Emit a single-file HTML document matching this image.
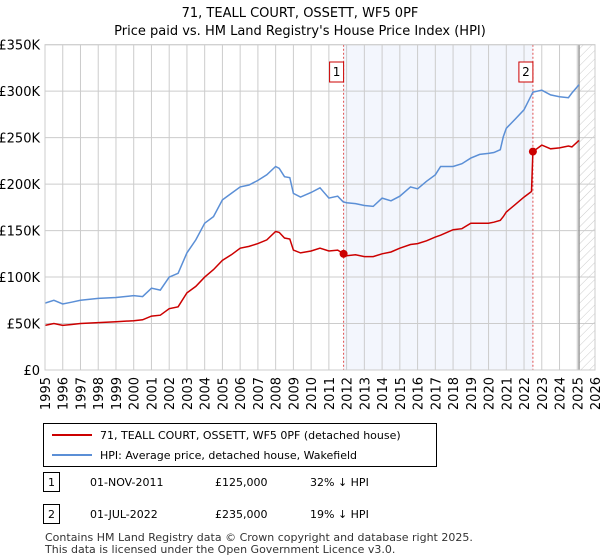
<!DOCTYPE html>
<html><head><meta charset="utf-8"><style>
body{margin:0;background:#fff;font-family:"Liberation Sans","DejaVu Sans",sans-serif;}
#wrap{position:relative;width:600px;height:560px;overflow:hidden;}
svg text{font-family:"DejaVu Sans","Liberation Sans",sans-serif;}
</style></head><body>
<div id="wrap">
<svg id="chart" width="600" height="560"></svg>
</div>
<script>
const hpiYears=[1995,1995.5,1996,1996.5,1997,1998,1999,2000,2000.5,2001,2001.5,2002,2002.5,2003,2003.5,2004,2004.5,2005,2005.5,2006,2006.5,2007,2007.5,2008,2008.2,2008.5,2008.8,2009,2009.4,2010,2010.5,2011,2011.5,2011.8,2012,2012.5,2013,2013.5,2014,2014.5,2015,2015.6,2016,2016.5,2017,2017.3,2018,2018.5,2019,2019.5,2020,2020.3,2020.66,2020.83,2021,2021.5,2022,2022.5,2023,2023.5,2024,2024.5,2024.7,2025.1];
const hpiValues=[72,75,71,73,75,77,78,80,79,88,86,100,104,126,140,158,165,183,190,197,199,204,210,219,217,208,207,190,186,191,196,185,187,181,180,179,177,176,185,182,187,197,195,203,210,219,219,222,228,232,233,234,237,251,260,270,280,299,301,296,294,293,298,307];
const saleYears=[1995,1995.5,1996,1996.5,1997,1998,1999,2000,2000.5,2001,2001.5,2002,2002.5,2003,2003.5,2004,2004.5,2005,2005.5,2006,2006.5,2007,2007.5,2008,2008.2,2008.5,2008.8,2009,2009.4,2010,2010.5,2011,2011.5,2011.83,2012,2012.5,2013,2013.5,2014,2014.5,2015,2015.6,2016,2016.5,2017,2017.3,2018,2018.5,2019,2019.5,2020,2020.3,2020.66,2020.83,2021,2021.5,2022,2022.42,2022.5,2023,2023.5,2024,2024.5,2024.7,2025.1];
const saleValues=[48,50,48,49,50,51,52,53,54,58,59,66,68,83,90,100,108,118,124,131,133,136,140,149,148,142,141,129,126,128,131,128,129,125,123,124,122,122,125,127,131,135,136,139,143,145,151,152,158,158,158,159,161,165,170,178,186,192,235,242,238,239,241,240,247];
const sales=[{n:'1',year:2011.83,value:125},{n:'2',year:2022.5,value:235}];
const yTicks=[0,50,100,150,200,250,300,350];
const yTickLabels=['£0','£50K','£100K','£150K','£200K','£250K','£300K','£350K'];
const xTicks=[1995,1996,1997,1998,1999,2000,2001,2002,2003,2004,2005,2006,2007,2008,2009,2010,2011,2012,2013,2014,2015,2016,2017,2018,2019,2020,2021,2022,2023,2024,2025,2026];

const NS='http://www.w3.org/2000/svg';
const svg=document.getElementById('chart');
const L=45,R=595,T=44.7,B=370;
const xs=y=>L+(y-1995)/(2026-1995)*(R-L);
const ys=v=>B-v/350*(B-T);
function el(tag,attrs,parent){const e=document.createElementNS(NS,tag);for(const k in attrs)e.setAttribute(k,attrs[k]);(parent||svg).appendChild(e);return e;}

const defs=el('defs',{});
const pat=el('pattern',{id:'hatch',width:6,height:6,patternUnits:'userSpaceOnUse',patternTransform:'rotate(45)'},defs);
el('line',{x1:0,y1:0,x2:0,y2:6,stroke:'#ccc','stroke-width':1},pat);

let t=el('text',{x:300,y:17,'text-anchor':'middle','font-size':13,fill:'#000'});t.textContent='71, TEALL COURT, OSSETT, WF5 0PF';


t=el('text',{x:300,y:35,'text-anchor':'middle','font-size':13,fill:'#000'});t.textContent="Price paid vs. HM Land Registry's House Price Index (HPI)";



let r=el('rect',{x:xs(sales[0].year),y:T,width:xs(sales[1].year)-xs(sales[0].year),height:B-T,fill:'#eef2fc',opacity:0.7});


const hatchStart=2025.1;
r=el('rect',{x:xs(hatchStart),y:T,width:R-xs(hatchStart),height:B-T,fill:'url(#hatch)'});



xTicks.forEach(y=>{const l=el('line',{x1:xs(y),x2:xs(y),y1:T,y2:B,stroke:'#ccc','stroke-width':1});


const tx=el('text',{x:0,y:0,'text-anchor':'end','font-size':13,fill:'#000',transform:'translate('+(xs(y)+5)+',377) rotate(-90)'});tx.textContent=y;

});
yTicks.forEach((v,i)=>{const l=el('line',{x1:L,x2:R,y1:ys(v),y2:ys(v),stroke:'#ccc','stroke-width':1});


const tx=el('text',{x:40,y:ys(v)+5,'text-anchor':'end','font-size':13,fill:'#000'});tx.textContent=yTickLabels[i];

});
let vl=el('line',{x1:xs(hatchStart),x2:xs(hatchStart),y1:T,y2:B,stroke:'#999','stroke-width':1.5});



sales.forEach(s=>{const l=el('line',{x1:xs(s.year),x2:xs(s.year),y1:T,y2:B,stroke:'#e05050','stroke-width':1,'stroke-dasharray':'2,2'});


const bx=el('rect',{x:xs(s.year)-14,y:62,width:14,height:20,fill:'#fff',stroke:'#c00','stroke-width':1});


const tx=el('text',{x:xs(s.year)-7,y:76,'text-anchor':'middle','font-size':12,fill:'#000'});tx.textContent=s.n;});

function path(xsA,vs){return xsA.map((y,i)=>(i?'L':'M')+xs(y).toFixed(1)+','+ys(vs[i]).toFixed(1)).join(' ');}
let p=el('path',{d:path(hpiYears,hpiValues),fill:'none',stroke:'#5b8fd6','stroke-width':1.5});


p=el('path',{d:path(saleYears,saleValues),fill:'none',stroke:'#cc0000','stroke-width':1.5});


sales.forEach(s=>{const c=el('circle',{cx:xs(s.year),cy:ys(s.value),r:4,fill:'#cc0000'});

});
el('rect',{x:L,y:T,width:R-L,height:B-T,fill:'none',stroke:'#ccc'});

const lg=el('g',{});


el('rect',{x:43.5,y:423.5,width:393,height:43,fill:'#fff',stroke:'#000'},lg);
el('line',{x1:52,x2:92,y1:435,y2:435,stroke:'#cc0000','stroke-width':2},lg);
el('line',{x1:52,x2:92,y1:455,y2:455,stroke:'#5b8fd6','stroke-width':2},lg);
t=el('text',{x:100,y:439,'font-size':11,fill:'#000'},lg);t.textContent='71, TEALL COURT, OSSETT, WF5 0PF (detached house)';


t=el('text',{x:100,y:459,'font-size':11,fill:'#000'},lg);t.textContent='HPI: Average price, detached house, Wakefield';



const rows=[['1','01-NOV-2011','£125,000','32% ↓ HPI',482],['2','01-JUL-2022','£235,000','19% ↓ HPI',514]];
rows.forEach(rw=>{const g=el('g',{});


el('rect',{x:43.5,y:rw[4]-9.5,width:16,height:19,fill:'#fff',stroke:'#000'},g);
let a=el('text',{x:51.5,y:rw[4]+4,'text-anchor':'middle','font-size':11},g);a.textContent=rw[0];
a=el('text',{x:90,y:rw[4]+4,'font-size':11},g);a.textContent=rw[1];
a=el('text',{x:215,y:rw[4]+4,'font-size':11},g);a.textContent=rw[2];
a=el('text',{x:310,y:rw[4]+4,'font-size':11},g);a.textContent=rw[3];});
t=el('text',{x:45,y:541,'font-size':11,fill:'#333'});t.textContent='Contains HM Land Registry data © Crown copyright and database right 2025.';


t=el('text',{x:45,y:553,'font-size':11,fill:'#333'});t.textContent='This data is licensed under the Open Government Licence v3.0.';


</script>
</body></html>
